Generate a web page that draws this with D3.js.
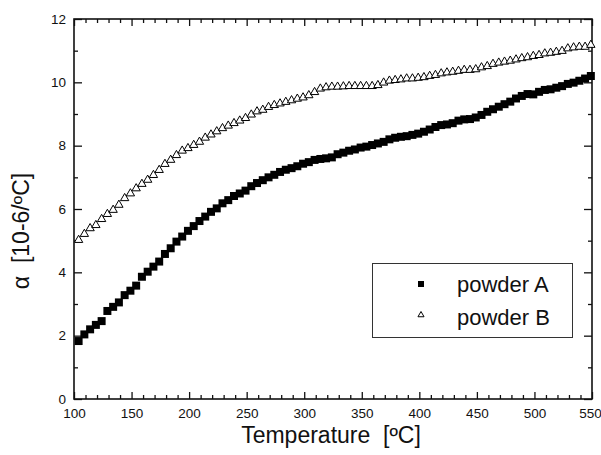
<!DOCTYPE html>
<html>
<head>
<meta charset="utf-8">
<script src="https://cdnjs.cloudflare.com/ajax/libs/d3/7.8.5/d3.min.js"></script>
<style>
	body { margin: 0; background: #fff; }
	svg text { font-family: "Liberation Sans", Arial, sans-serif; fill: #111; }
</style>
</head>
<body>
<svg id="chartSVG" width="601" height="455"></svg>
<script>
// temperatures of the measured points (every 5 degrees)
var temperatures = d3.range(90).map(function(i){ return 104 + 5 * i; });

var powderA = [1.83, 2.04, 2.20, 2.34, 2.46, 2.78, 2.91, 3.05, 3.28, 3.42,
			   3.58, 3.86, 4.02, 4.18, 4.34, 4.58, 4.76, 4.97, 5.13, 5.31,
			   5.46, 5.62, 5.76, 5.91, 6.02, 6.18, 6.28, 6.41, 6.49, 6.58,
			   6.72, 6.82, 6.91, 7.00, 7.08, 7.17, 7.24, 7.29, 7.35, 7.43,
			   7.48, 7.55, 7.58, 7.60, 7.63, 7.73, 7.78, 7.84, 7.88, 7.94,
			   7.97, 8.02, 8.07, 8.12, 8.20, 8.25, 8.28, 8.30, 8.34, 8.38,
			   8.44, 8.51, 8.59, 8.65, 8.67, 8.71, 8.79, 8.83, 8.84, 8.89,
			   8.97, 9.07, 9.15, 9.23, 9.31, 9.39, 9.49, 9.57, 9.63, 9.62,
			   9.70, 9.76, 9.78, 9.83, 9.88, 9.95, 9.99, 10.05, 10.12, 10.20];

var powderB = [5.02, 5.21, 5.39, 5.49, 5.68, 5.84, 5.97, 6.13, 6.34, 6.49,
			   6.65, 6.79, 6.92, 7.07, 7.23, 7.42, 7.55, 7.70, 7.84, 7.92,
			   8.02, 8.12, 8.25, 8.35, 8.45, 8.55, 8.63, 8.71, 8.79, 8.87,
			   8.98, 9.08, 9.13, 9.22, 9.28, 9.33, 9.38, 9.43, 9.48, 9.52,
			   9.59, 9.69, 9.80, 9.84, 9.86, 9.86, 9.87, 9.88, 9.88, 9.88,
			   9.88, 9.88, 9.91, 9.99, 10.05, 10.07, 10.09, 10.12, 10.12, 10.14,
			   10.16, 10.20, 10.23, 10.28, 10.31, 10.33, 10.36, 10.39, 10.39, 10.41,
			   10.47, 10.51, 10.58, 10.62, 10.65, 10.68, 10.72, 10.76, 10.79, 10.83,
			   10.86, 10.91, 10.93, 10.96, 10.99, 11.07, 11.10, 11.12, 11.12, 11.18];

var xTicks = [100, 150, 200, 250, 300, 350, 400, 450, 500, 550];
var yTicks = [0, 2, 4, 6, 8, 10, 12];
var seriesNames = ["powder A", "powder B"];

drawChart();

function drawChart(){
	var svg = d3.select("#chartSVG");
	var left = 74, right = 592, top = 19, bottom = 399;

	var x = d3.scaleLinear().domain([100, 550]).range([left, right]);
	var y = d3.scaleLinear().domain([0, 12]).range([bottom, top]);

	var xMinor = d3.range(100, 551, 10).filter(function(v){ return xTicks.indexOf(v) < 0; });
	var yMinor = d3.range(0, 13, 1).filter(function(v){ return yTicks.indexOf(v) < 0; });

	// bottom axis with labels, ticks pointing in
	var gx = svg.append('g').attr('transform', "translate(0," + bottom + ")")
		.call(d3.axisBottom(x).tickValues(xTicks).tickSize(-7).tickPadding(9).tickFormat(d3.format("d")));
	svg.append('g').attr('transform', "translate(0," + bottom + ")")
		.call(d3.axisBottom(x).tickValues(xMinor).tickSize(-4).tickFormat(""));
	// top axis
	svg.append('g').attr('transform', "translate(0," + top + ")")
		.call(d3.axisTop(x).tickValues(xTicks).tickSize(-7).tickFormat(""));
	svg.append('g').attr('transform', "translate(0," + top + ")")
		.call(d3.axisTop(x).tickValues(xMinor).tickSize(-4).tickFormat(""));
	// left axis
	var gy = svg.append('g').attr('transform', "translate(" + left + ",0)")
		.call(d3.axisLeft(y).tickValues(yTicks).tickSize(-8).tickPadding(8));
	svg.append('g').attr('transform', "translate(" + left + ",0)")
		.call(d3.axisLeft(y).tickValues(yMinor).tickSize(-4).tickFormat(""));
	// right axis
	svg.append('g').attr('transform', "translate(" + right + ",0)")
		.call(d3.axisRight(y).tickValues(yTicks).tickSize(-8).tickFormat(""));
	svg.append('g').attr('transform', "translate(" + right + ",0)")
		.call(d3.axisRight(y).tickValues(yMinor).tickSize(-4).tickFormat(""));

	svg.selectAll('.domain').remove();
	svg.selectAll('.tick line').attr('stroke', "#111").attr('stroke-width', 1.3);
	svg.selectAll('.tick text').style('font-size', "13.5px").attr('fill', "#111");
	gx.selectAll('.tick text').attr('dy', "0.71em");
	// the last label sits against the page edge, as in the original
	gx.selectAll('.tick text').filter(function(d){ return d == 550; }).attr('dx', "-2px");

	svg.append('rect')
		.attr('x', left).attr('y', top)
		.attr('width', right - left).attr('height', bottom - top)
		.attr('fill', "none").attr('stroke', "#111").attr('stroke-width', 1.6);

	// points
	var square = d3.symbol().type(d3.symbolSquare).size(64);
	var triangle = d3.symbol().type(d3.symbolTriangle).size(30);

	svg.append('g').selectAll('path')
		.data(powderB).enter().append('path')
		.attr('d', triangle)
		.attr('transform', function(d, i){ return "translate(" + x(temperatures[i]) + "," + y(d) + ")"; })
		.attr('fill', "white").attr('stroke', "black").attr('stroke-width', 1);

	svg.append('g').selectAll('path')
		.data(powderA).enter().append('path')
		.attr('d', square)
		.attr('transform', function(d, i){ return "translate(" + x(temperatures[i]) + "," + y(d) + ")"; })
		.attr('fill', "black");

	// legend
	svg.append('rect')
		.attr('x', 372.5).attr('y', 263.5).attr('width', 200).attr('height', 74)
		.attr('fill', "white").attr('stroke', "#333").attr('stroke-width', 1);
	svg.append('path').attr('d', d3.symbol().type(d3.symbolSquare).size(36))
		.attr('transform', "translate(421,284)").attr('fill', "black");
	svg.append('path').attr('d', d3.symbol().type(d3.symbolTriangle).size(16))
		.attr('transform', "translate(421,315)")
		.attr('fill', "white").attr('stroke', "black").attr('stroke-width', 1);
	svg.append('text').text(seriesNames[0])
		.attr('x', 457).attr('y', 292).style('font-size', "22px");
	svg.append('text').text(seriesNames[1])
		.attr('x', 457).attr('y', 325).style('font-size', "22px");

	// axis titles
	svg.append('text').text("Temperature  [ºC]")
		.attr('x', 331).attr('y', 443).attr('text-anchor', "middle")
		.style('font-size', "23px").style('white-space', "pre");
	svg.append('text').text("α  [10-6/ºC]")
		.attr('transform', "translate(29,231) rotate(-90)")
		.attr('text-anchor', "middle")
		.style('font-size', "23px").style('white-space', "pre");
}
</script>
</body>
</html>
